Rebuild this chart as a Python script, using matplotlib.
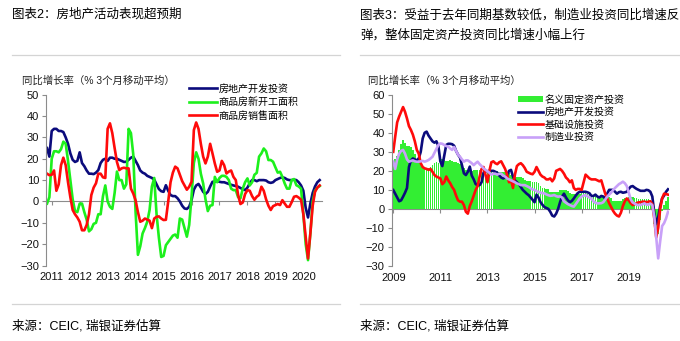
import numpy as np
import matplotlib
matplotlib.use("Agg")
import matplotlib.pyplot as plt
from matplotlib.lines import Line2D

plt.rcParams['font.family'] = ['Liberation Sans', 'Noto Sans CJK SC', 'DejaVu Sans']

# ---------------- left chart: 3mma yoy, %, Nov 2010 - Aug 2020
left_start = (2010, 11)
re_invest = [25, 21,
             33, 34, 34, 33, 33, 32.5, 30, 27, 22.5, 19.5, 18.5, 19,
             23, 18, 16.5, 14.5, 13, 13, 12.8, 13.5, 14.7, 18, 19.5, 20,
             19, 20.5, 20.5, 20, 20, 19.5, 19, 18.5, 18.6, 19.5, 20.5, 21,
             19, 17, 14.5, 13.5, 13, 12, 11.5, 11, 10.2, 8, 5.8, 4.8,
             4.5, 7.6, 5, 3, 2.5, 2.5, 1.5, 0, -2, -3.3, -3.5, -2.5,
             0.6, 5.5, 7.5, 8.2, 6.5, 4.5, 3.5, 4.5, 7, 9.2, 9.2, 9.5,
             9.2, 9, 9, 8.6, 8.2, 7.8, 7.5, 7.2, 6.9, 6.3, 5.8, 5.3,
             6.5, 8.5, 10, 10, 9.5, 10, 10, 10, 9.8, 9, 8.7, 9,
             10, 10.5, 11, 11.3, 11, 10.3, 10, 10, 10.2, 10, 9, 7.5,
             5, -3, -7.5, -1, 4, 7, 9, 10]
new_starts = [-1, 2,
              20, 23.5, 23.5, 23, 24.5, 28, 27, 19, 10, 1, -4.5, -5,
              -1, -1, -5, -8.5, -14, -13, -10.5, -10, -6, -6, 2.5, 7.5,
              0, -2.5, -3.5, 4, 14, 10, 10, 6, 8, 34, 32, 22,
              -5, -25, -21, -15, -12.5, -9.5, -4, 7, 11, -6, -17, -26,
              -25.5, -20.5, -19, -17.5, -16, -15.5, -17, -8, -8.5, -12.5, -16.5, -11,
              2, 18, 23, 20, 13, 8.4, 1, -4.5, -2, -1.7, 11.5, 9,
              11, 12, 12, 11.5, 10, 6, 5.3, 5.3, 2, 1.5, 6, 9,
              10.8, 7.5, 9, 12.5, 13.4, 21, 22.5, 24.8, 23.5, 19.4, 19.4, 18.6,
              16, 13.5, 13.9, 11.5, 8.4, 6, 6, 10, 10.5, 7.6, 7, 6,
              -6, -20, -27.5, -15, 0, 5, 6.5, 7.2]
sales_area = [13, 12.3,
              12.5, 14.5, 5, 8, 17, 20.5, 17, 9, 2, -4, -6, -7.5,
              -9.5, -13.5, -13.5, -11, -6, 3, 6.5, 8.5, 13, 13, 11.3, 11,
              34, 36.6, 32, 25, 18.5, 14.7, 15.5, 15.8, 15.5, 15.5, 6, 3.7,
              0.5, -5, -9.5, -9, -8, -8.5, -9, -12.5, -8, -7.2, -7, -8,
              -8.7, -8.6, 0, 9, 13.5, 16.3, 15.5, 12.5, 9.5, 7.5, 5.5, 6.9,
              9.2, 33.4, 37, 34, 27, 21, 17.8, 21, 27, 22.5, 17.8, 13.9,
              14.5, 19, 17, 13.1, 14, 14.5, 11.5, 10, 3, -1.2, -0.5, 3.5,
              5.3, 5, 2.5, 0.8, 2.2, 3, 6.9, 5, 1, -2, -4, -2.2,
              -1.7, -1.2, -1.7, 0.6, -1, -2.5, -2.5, -0.3, 2.2, 2.5, 1.8, 0.8,
              -6, -16.6, -26.7, -15, -2, 4.5, 6.5, 7.5]
left_names = ['房地产开发投资', '商品房新开工面积', '商品房销售面积']
left_years = list(range(2011, 2021))

# ---------------- right chart: 3mma yoy, %, Jan 2009 - Sep 2020
right_start = (2009, 1)
fai_total = [24.8, 26, 28, 31, 34, 36, 34.5, 33, 33, 32.5, 31, 29,
             26, 25, 24, 21.5, 21, 21, 21.5, 22, 23, 24, 24.5, 24,
             25, 26, 25.5, 25, 25, 25.5, 25, 24.5, 24.5, 24, 23.5, 23,
             21.5, 20.5, 20.5, 20, 20, 20.5, 20.5, 20.5, 20.5, 20.5, 20.5, 20.5,
             20.5, 20.5, 20.5, 20, 20, 20, 19.5, 19.5, 19.5, 19.5, 19.5, 19,
             18, 17.5, 17, 17, 17, 16.5, 16, 15, 14.5, 14.5, 14.5, 14,
             14, 14, 13.5, 12, 11, 11, 10.5, 10.5, 9, 9, 9, 9,
             9, 10, 10, 10, 10, 9.5, 8.5, 8, 8, 8, 8, 8,
             8.5, 9, 8.5, 8, 7.5, 7.5, 7, 7, 7, 7, 7, 6.5,
             6.5, 6, 6, 5.5, 4, 4, 4, 4, 4, 5, 5.5, 5.5,
             6, 6, 6, 5.5, 5.5, 5, 5, 5, 5, 5, 5, 4.5,
             2, -8, -16, -13, -6, -1, 2, 4, 6]
fai_re = [9.9, 8, 6, 4, 4.5, 6.4, 8.5, 11, 22, 25.5, 26.5, 26,
          25.5, 26.5, 30, 37, 40, 40.6, 38.5, 37, 35.5, 34.8, 35.5, 33,
          25, 22.5, 28, 33.6, 34.2, 34.2, 34, 33.2, 30.5, 28.5, 27, 23,
          18.7, 17.8, 19.5, 22.2, 17.5, 15.5, 13, 12.5, 12.5, 14, 19, 20,
          19.7, 20, 20, 20, 19.5, 19, 17.5, 16.5, 16, 16.5, 17.5, 20,
          20.5, 17, 15, 14, 13, 11.5, 10, 9, 8, 7.2, 6, 4.8,
          3.5, 7.5, 6, 3.6, 2.2, 1, 0.5, 0, -1.5, -3.5, -4, -2.5,
          0, 3.5, 6.5, 8, 6, 4.5, 3.5, 4.2, 5.5, 7, 8.3, 9,
          9, 9, 9, 8.7, 8.2, 6.8, 6.8, 7.5, 6.5, 6, 6.8, 6.5,
          5.5, 8, 10, 10, 10, 9, 8, 8.8, 9, 8.5, 8.7, 9,
          10.5, 11.7, 12, 11.2, 10.5, 10, 9.5, 9.5, 9.5, 10, 9.8, 9,
          6.5, -2, -8, -4.5, 1.5, 5.5, 7, 9, 10.3]
fai_infra = [30, 38, 45.5, 48.5, 51, 53.5, 51, 47.5, 43.5, 41.5, 39, 35.5,
             31, 29, 24, 22, 21.3, 21, 20.5, 21, 19.5, 17.8, 17, 16.5,
             16, 13, 14, 17, 15, 13.5, 11.5, 10, 7, 4.5, 3.8, 3.8,
             2, -1.5, -2.5, 1.5, 4, 7, 10, 12, 17, 21, 22, 18,
             14, 20, 24.5, 25, 24, 23.5, 24.5, 25, 23, 21, 18, 14,
             15, 11, 18, 22.5, 23.5, 24, 23, 21.5, 19.5, 19, 18.5, 18.2,
             19.5, 22, 20, 18, 17, 16.5, 15.5, 15.5, 16, 14.5, 16, 20,
             20.5, 21, 20, 18.5, 16.5, 15.5, 14, 15, 11, 10, 10.5, 10.5,
             10, 14, 18, 17, 16, 15.5, 15.5, 15.5, 15, 14.5, 15, 11.5,
             8, 5.5, 3, 1, -1, -2.5, -3.5, -4, -2, 1.5, 4, 5.5,
             4.5, 3, 2, 2.5, 3, 3.5, 3.5, 3.8, 3.8, 3.5, 3.8, 4,
             2.5, -5, -15, -10, 0, 5.5, 8, 7.8, 7.5]
fai_mfg = [24.8, 21, 26, 29, 30.5, 31, 29, 26, 24.8, 25.2, 25.5, 25,
           24.8, 24.8, 25, 25.2, 24.8, 25.2, 25.7, 26.5, 27.4, 29.5, 31.5, 33.6,
           34.4, 34.2, 33.6, 33, 32.7, 31.8, 31, 32.5, 30.5, 28.5, 27.4, 26,
           24.8, 25.5, 25.5, 24.8, 24, 23, 24, 24.8, 23.5, 22.5, 21.3, 20.5,
           19.8, 19, 18, 18.5, 18.5, 18, 18.5, 18.5, 17.5, 17, 16, 15.5,
           15, 14.5, 14, 13.4, 13, 12.5, 12.5, 12.5, 12, 11.5, 10.8, 10.2,
           10, 9.3, 9, 8.5, 8.3, 8.2, 7.6, 7.2, 6.9, 7, 7.3, 6.7,
           6.4, 6.6, 6, 4, 3.2, 2.5, 2, 1.5, 1.2, 2.5, 4, 5.5,
           6.5, 7, 7.2, 6.6, 6, 5.3, 4, 3.2, 2.9, 2.9, 3, 3.5,
           5, 6.4, 7.5, 8.5, 9.9, 11, 12, 13, 13.6, 14.3, 13.5, 12,
           8.5, 5, 3.4, 2.8, 2.2, 2, 2, 2.5, 2.9, 2.2, 2.2, 2.8,
           2, -4, -15, -26, -17, -9, -7.5, -5, -1.5]
right_names = ['名义固定资产投资', '房地产开发投资', '基础设施投资', '制造业投资']
right_years = list(range(2009, 2021, 2))

NAVY = '#0b0b7c'
GREEN = '#1cf01c'
RED = '#ff0a0a'
PURPLE = '#c8a0f8'
BAR = '#33ee33'
AXIS = '#8c8c8c'
SEP = '#d4d4d4'


def months(start, n, base_year):
    first = (start[0] - base_year) * 12 + start[1] - 1
    return np.arange(n) + first


def style(ax, ylim, ystep, xlim, years, base_year):
    ax.set_xlim(*xlim)
    ax.set_ylim(*ylim)
    ax.set_yticks(np.arange(ylim[0], ylim[1] + 1, ystep))
    pos = [(y - base_year) * 12 for y in years]
    ax.set_xticks(pos)
    ax.set_xticklabels([str(y) for y in years])
    for s in ['top', 'right', 'bottom']:
        ax.spines[s].set_visible(False)
    ax.spines['left'].set_color(AXIS)
    ax.spines['left'].set_linewidth(0.8)
    ax.tick_params(axis='y', direction='out', length=3, width=0.8,
                   color=AXIS, labelsize=8, pad=2, labelcolor='#111111')
    ax.tick_params(axis='x', length=0, labelsize=8, pad=5,
                   labelcolor='#111111')
    # the horizontal axis runs through zero, labels stay at the bottom
    zero = (0 - ylim[0]) / (ylim[1] - ylim[0])
    sec = ax.secondary_xaxis(zero)
    sec.set_xticks(pos)
    sec.tick_params(axis='x', direction='out', length=3, width=0.8,
                    color=AXIS, labelbottom=False, labeltop=False)
    for s in ['top', 'bottom']:
        sec.spines[s].set_color(AXIS)
        sec.spines[s].set_linewidth(0.8)


fig = plt.figure(figsize=(6.8, 3.41), dpi=100)
W, H = 680.0, 341.0

# ---- left panel
ax1 = fig.add_axes([46 / W, 1 - 265.5 / H, 276 / W, 170.8 / H])
xl = months(left_start, len(re_invest), 2011)
ax1.plot(xl, re_invest, color=NAVY, lw=1.9, label=left_names[0])
ax1.plot(xl, new_starts, color=GREEN, lw=1.9, label=left_names[1])
ax1.plot(xl, sales_area, color=RED, lw=1.9, label=left_names[2])
style(ax1, (-30, 50), 10, (-2.45, 116.0), left_years, 2011)
ax1.legend(loc='upper left', bbox_to_anchor=(189 / W, 1 - 83.5 / H),
           bbox_transform=fig.transFigure, frameon=False, fontsize=7.2,
           handlelength=2.8, handletextpad=0.15, labelspacing=0.35,
           borderpad=0, borderaxespad=0)

# ---- right panel
ax2 = fig.add_axes([391.7 / W, 1 - 266 / H, 276.9 / W, 171.3 / H])
xr = months(right_start, len(fai_total), 2009)
bars = ax2.bar(xr, fai_total, width=0.85, color=BAR, linewidth=0,
               label=right_names[0])
l1, = ax2.plot(xr, fai_re, color=NAVY, lw=1.9, label=right_names[1])
l2, = ax2.plot(xr, fai_infra, color=RED, lw=1.9, label=right_names[2])
l3, = ax2.plot(xr, fai_mfg, color=PURPLE, lw=1.9, label=right_names[3])
style(ax2, (-30, 60), 10, (-0.79, 140.3), right_years, 2009)
ax2.legend(handles=[bars, l1, l2, l3], loc='upper left',
           bbox_to_anchor=(518 / W, 1 - 94.5 / H),
           bbox_transform=fig.transFigure, frameon=False, fontsize=7.2,
           handlelength=2.5, handleheight=0.55, handletextpad=0.2,
           labelspacing=0.25, borderpad=0, borderaxespad=0)

# ---- titles, axis notes, sources
fig.text(12 / W, 1 - 14.5 / H, '图表2：房地产活动表现超预期', fontsize=9,
         va='center', ha='left')
fig.text(360 / W, 1 - 15 / H, '图表3：受益于去年同期基数较低，制造业投资同比增速反',
         fontsize=9, va='center', ha='left')
fig.text(360 / W, 1 - 35.5 / H, '弹，整体固定资产投资同比增速小幅上行',
         fontsize=9, va='center', ha='left')
fig.text(22 / W, 1 - 80.5 / H, '同比增长率（% 3个月移动平均）', fontsize=7.5,
         va='center', ha='left', color='#222222')
fig.text(368 / W, 1 - 80.5 / H, '同比增长率（% 3个月移动平均）', fontsize=7.5,
         va='center', ha='left', color='#222222')
for x0 in (12, 360):
    fig.text(x0 / W, 1 - 326.5 / H, '来源：CEIC, 瑞银证券估算', fontsize=9,
             va='center', ha='left')

for (a, b) in ((12, 340), (360, 680)):
    for yy in (54.5, 303.5):
        fig.add_artist(Line2D([a / W, b / W], [1 - yy / H, 1 - yy / H],
                              color=SEP, lw=0.9, transform=fig.transFigure))

fig.savefig('out.png', dpi=100)
